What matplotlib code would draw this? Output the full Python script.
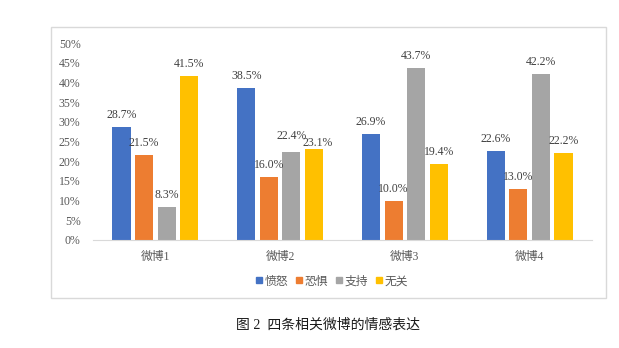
import matplotlib
import matplotlib.pyplot as plt
from matplotlib.patches import Rectangle
from matplotlib.lines import Line2D
import numpy as np

categories = ['微博1', '微博2', '微博3', '微博4']
series_names = ['愤怒', '恐惧', '支持', '无关']
anger = [28.7, 38.5, 26.9, 22.6]
fear = [21.5, 16.0, 10.0, 13.0]
support = [8.3, 22.4, 43.7, 42.2]
unrelated = [41.5, 23.1, 19.4, 22.2]
yticks = [0, 5, 10, 15, 20, 25, 30, 35, 40, 45, 50]

colors = ['#4472C4', '#ED7D31', '#A5A5A5', '#FFC000']
fam = ['Liberation Serif', 'Noto Sans CJK SC', 'DejaVu Sans']
plt.rcParams['font.family'] = fam

fig = plt.figure(figsize=(6.19, 3.48), dpi=100)
W, H = 619, 348

# chart frame
fig.patches.append(Rectangle((51 / W, 1 - 298 / H), 555 / W, 271 / H,
                             transform=fig.transFigure, fill=False,
                             edgecolor='#D9D9D9', linewidth=1.0))

ax = fig.add_axes([93 / W, 1 - 240 / H, 499 / W, 197 / H])
x = np.arange(len(categories))
width = 0.145
step = 0.181
all_series = [anger, fear, support, unrelated]
# label nudges (pixels) where excel shifted overlapping labels
nudge = {(2, 1): (0, 4), (3, 1): (4, -6)}
for i, vals in enumerate(all_series):
    pos = x + (i - 1.5) * step
    ax.bar(pos, vals, width, color=colors[i], label=series_names[i])
    for j, (p, v) in enumerate(zip(pos, vals)):
        dx, dy = nudge.get((i, j), (0, 0))
        ax.annotate(f'{v:.1f}%', (p, v), xytext=(dx, 12 + dy), textcoords='offset pixels',
                    ha='center', va='center', fontsize=8.5, color='#404040')

ax.set_xlim(-0.5, 3.5)
ax.set_ylim(0, 50)
ax.set_yticks(yticks)
ax.set_yticklabels([f'{t}%' for t in yticks])
ax.set_xticks(x)
ax.set_xticklabels(categories)
ax.tick_params(axis='both', length=0, labelsize=8.5, colors='#595959')
ax.tick_params(axis='x', pad=8)
ax.tick_params(axis='y', pad=9)
for s in ['top', 'right', 'left']:
    ax.spines[s].set_visible(False)
ax.spines['bottom'].set_color('#D9D9D9')

handles = [Line2D([], [], marker='s', linestyle='none', markersize=4,
                  color=c) for c in colors]
leg = fig.legend(handles, series_names, loc='center', ncol=4,
                 bbox_to_anchor=(331 / W, 1 - 281 / H), frameon=False,
                 prop={'family': 'Noto Sans CJK SC', 'size': 8.5},
                 handletextpad=0.05, columnspacing=0.55, handlelength=0.8)
for t in leg.get_texts():
    t.set_color('#595959')

fig.text(328 / W, 1 - 325 / H, '图 2  四条相关微博的情感表达', ha='center', va='center',
         fontsize=10, color='#1a1a1a')

fig.savefig('out.png', dpi=100)
